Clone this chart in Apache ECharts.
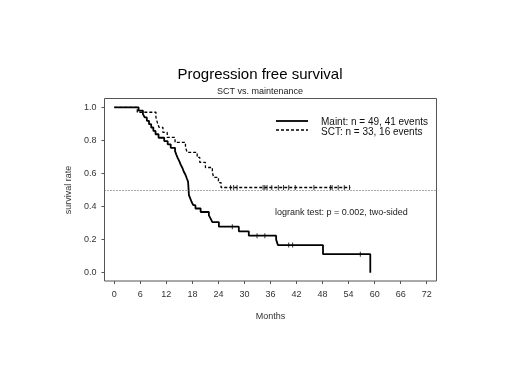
<!DOCTYPE html>
<html>
<head>
<meta charset="utf-8">
<script src="https://cdn.jsdelivr.net/npm/echarts@6/dist/echarts.min.js"></script>
<style>
    html, body {margin: 0; padding: 0; background: #fff;}
    #box {width: 520px; height: 390px;}
</style>
</head>
<body>
<div id="box"></div>
<script>
//Maint 组 (实线)
var maintTime = [0, 5.6, 6.6, 7.0, 7.5, 8.0, 8.5, 9.0, 9.5, 10.2, 11.5, 12.3, 13.0, 14.0, 14.3, 14.6, 15.0, 15.3, 15.7, 16.0, 16.4, 16.7, 17.0, 17.2, 17.5, 17.8, 18.2, 18.7, 19.9, 21.8, 22.2, 22.6, 24.1, 28.7, 31.0, 37.3, 37.7, 48.1, 59.0];
var maintSurv = [1, 0.980, 0.959, 0.939, 0.918, 0.898, 0.878, 0.857, 0.837, 0.816, 0.796, 0.776, 0.755, 0.735, 0.714, 0.694, 0.673, 0.653, 0.633, 0.612, 0.592, 0.571, 0.551, 0.469, 0.449, 0.429, 0.408, 0.388, 0.367, 0.347, 0.327, 0.306, 0.278, 0.250, 0.224, 0.200, 0.167, 0.112, 0];
var maintCensorTime = [27.2, 32.9, 34.7, 40.2, 41.1, 56.7];
var maintCensorSurv = [0.278, 0.224, 0.224, 0.167, 0.167, 0.112];

//SCT 组 (虚线)
var sctTime = [0, 5.3, 9.6, 9.9, 10.3, 11.2, 12.2, 14.0, 16.4, 16.8, 19.1, 19.7, 21.0, 22.6, 22.9, 24.0, 24.6, 54.4];
var sctSurv = [1, 0.970, 0.939, 0.909, 0.879, 0.848, 0.818, 0.788, 0.758, 0.727, 0.697, 0.667, 0.636, 0.606, 0.576, 0.545, 0.515, 0.515];
var sctCensorTime = [26.8, 27.5, 28.3, 34.3, 34.7, 35.2, 36.3, 37.8, 39.0, 40.2, 41.7, 46.0, 49.8, 50.2, 51.6, 53.0, 54.2];
var sctCensorSurv = [0.515, 0.515, 0.515, 0.515, 0.515, 0.515, 0.515, 0.515, 0.515, 0.515, 0.515, 0.515, 0.515, 0.515, 0.515, 0.515, 0.515];

//坐标轴刻度
var xTickMin = 0, xTickMax = 72, xTickStep = 6;
var yTickMin = 0, yTickMax = 1, yTickStep = 0.2;

function pairs(a, b) {
    return a.map(function (v, i) {
        return [v, b[i]];
    });
}

var fontName = 'Liberation Sans, Arial, sans-serif';
var chart = echarts.init(document.getElementById('box'));
var option = {
    animation: false,
    backgroundColor: '#fff',
    title: [
        {text: 'Progression free survival', left: 'center', top: 62,
            textStyle: {fontFamily: fontName, fontSize: 15, fontWeight: 'normal', color: '#000'}},
        {text: 'SCT vs. maintenance', left: 'center', top: 82,
            textStyle: {fontFamily: fontName, fontSize: 9, fontWeight: 'normal', color: '#222'}}
    ],
    grid: [
        //数据区域 (带边框)
        {left: 104.5, right: 83.5, top: 98.5, bottom: 109, show: true, borderColor: '#555', borderWidth: 1, backgroundColor: 'transparent'},
        //x 轴刻度
        {left: 114.3, right: 93.3, top: 98.5, bottom: 109},
        //y 轴刻度
        {left: 104.5, right: 83.5, top: 107.3, bottom: 117.3}
    ],
    xAxis: [
        {gridIndex: 0, type: 'value', min: -2.26, max: 74.26, show: false},
        {gridIndex: 1, type: 'value', min: xTickMin, max: xTickMax, interval: xTickStep,
            axisLine: {show: false}, splitLine: {show: false},
            axisTick: {show: true, length: 3, lineStyle: {color: '#555'}},
            axisLabel: {margin: 9, fontFamily: fontName, fontSize: 9, color: '#333'},
            name: 'Months', nameLocation: 'middle', nameGap: 31,
            nameTextStyle: {fontFamily: fontName, fontSize: 9, color: '#333'}},
        {gridIndex: 2, type: 'value', show: false}
    ],
    yAxis: [
        {gridIndex: 0, type: 'value', min: -0.0502, max: 1.0532, show: false},
        {gridIndex: 1, type: 'value', show: false},
        {gridIndex: 2, type: 'value', min: yTickMin, max: yTickMax, interval: yTickStep,
            axisLine: {show: false}, splitLine: {show: false},
            axisTick: {show: true, length: 3, lineStyle: {color: '#555'}},
            axisLabel: {margin: 8, fontFamily: fontName, fontSize: 9, color: '#333',
                formatter: function (v) {
                    return v.toFixed(1);
                }},
            name: 'survival rate', nameLocation: 'middle', nameGap: 27,
            nameTextStyle: {fontFamily: fontName, fontSize: 9, color: '#333'}}
    ],
    graphic: [
        {type: 'line', shape: {x1: 276, y1: 121, x2: 308, y2: 121}, style: {stroke: '#000', lineWidth: 1.8}},
        {type: 'line', shape: {x1: 276, y1: 130, x2: 308, y2: 130}, style: {stroke: '#000', lineWidth: 1.3, lineDash: [3, 2]}},
        {type: 'text', x: 321, y: 122.5, style: {text: 'Maint: n = 49, 41 events', font: '10px ' + fontName, fill: '#111', textVerticalAlign: 'middle'}},
        {type: 'text', x: 321, y: 132, style: {text: 'SCT: n = 33, 16 events', font: '10px ' + fontName, fill: '#111', textVerticalAlign: 'middle'}},
        {type: 'text', x: 275, y: 213, style: {text: 'logrank test: p = 0.002, two-sided', font: '9px ' + fontName, fill: '#222', textVerticalAlign: 'middle'}}
    ],
    series: [
        {
            name: 'Maint', type: 'line', step: 'end', xAxisIndex: 0, yAxisIndex: 0,
            data: pairs(maintTime, maintSurv), showSymbol: false, symbol: 'none',
            lineStyle: {color: '#000', width: 1.8},
            markLine: {
                silent: true, symbol: 'none', label: {show: false},
                lineStyle: {color: '#555', width: 1, type: [1, 2]},
                data: [{yAxis: 0.5}]
            }
        },
        {
            name: 'SCT', type: 'line', step: 'end', xAxisIndex: 0, yAxisIndex: 0,
            data: pairs(sctTime, sctSurv), showSymbol: false, symbol: 'none',
            lineStyle: {color: '#000', width: 1.3, type: [3, 2]}
        },
        {
            name: 'Maint censored', type: 'scatter', xAxisIndex: 0, yAxisIndex: 0,
            data: pairs(maintCensorTime, maintCensorSurv),
            symbol: 'rect', symbolSize: [1, 5], itemStyle: {color: '#000'}
        },
        {
            name: 'SCT censored', type: 'scatter', xAxisIndex: 0, yAxisIndex: 0,
            data: pairs(sctCensorTime, sctCensorSurv),
            symbol: 'rect', symbolSize: [1, 5], itemStyle: {color: '#000'}
        }
    ]
};
chart.setOption(option);
</script>
</body>
</html>
